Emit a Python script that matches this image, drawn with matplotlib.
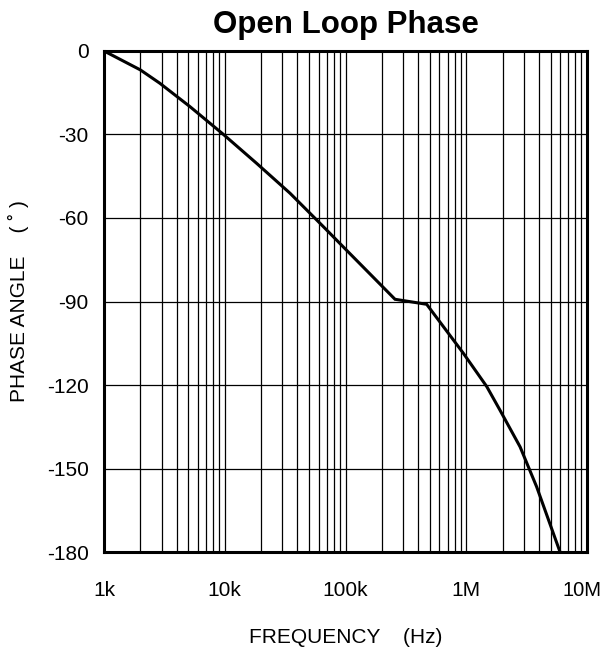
import numpy as np
import matplotlib
matplotlib.use("Agg")
import matplotlib.pyplot as plt
import matplotlib.transforms as mtransforms
from matplotlib.ticker import FixedLocator, NullFormatter

plt.rcParams["font.family"] = ["Liberation Sans", "DejaVu Sans"]
plt.rcParams["axes.unicode_minus"] = False

# ===============================
# DATA
# ===============================
freq_hz = [1e3, 2e3, 2.9e3, 5.15e3, 9.7e3, 18.4e3, 34.7e3, 65.5e3, 100e3,
           257e3, 470e3, 946e3, 1.48e6, 1.9e6, 2.79e6, 3.83e6, 5.98e6]
phase_deg = [0, -6.8, -11.6, -20, -29.9, -40.4, -51.1, -63.1, -71.2,
             -89.2, -91.0, -108.6, -120.6, -129, -142.2, -156.6, -180]

x_ticks = [1e3, 1e4, 1e5, 1e6, 1e7]
x_labels = ["1k", "10k", "100k", "1M", "10M"]
y_ticks = [0, -30, -60, -90, -120, -150, -180]

# ===============================
# PLOT
# ===============================
fig = plt.figure(figsize=(6.03, 6.51), dpi=100)
ax = fig.add_axes([0.1725, 0.152, 0.801, 0.7697])

ax.plot(freq_hz, phase_deg, color="black", lw=2.2, solid_joinstyle="miter", zorder=3)

ax.set_xscale("log")
ax.set_xlim(1e3, 1e7)
ax.set_ylim(-180, 0)

ax.set_xticks(x_ticks)
ax.set_xticklabels(x_labels)
minor = [m * 10.0 ** e for e in range(3, 7) for m in range(2, 10)]
ax.xaxis.set_minor_locator(FixedLocator(minor))
ax.xaxis.set_minor_formatter(NullFormatter())
ax.set_yticks(y_ticks)

ax.grid(True, which="major", color="black", lw=0.9)
ax.grid(True, which="minor", axis="x", color="black", lw=0.9)
ax.tick_params(axis="both", which="both", length=0, labelsize=15)
ax.tick_params(axis="x", pad=21)
ax.tick_params(axis="y", pad=11)

# last x label sits flush with the right edge in the reference
last = ax.get_xticklabels()[-1]
last.set_fontsize(14.5)
last.set_transform(last.get_transform() +
                   mtransforms.ScaledTranslation(-5 / 100, 0, fig.dpi_scale_trans))

for s in ax.spines.values():
    s.set_linewidth(2.2)
    s.set_zorder(4)

ax.set_title("Open Loop Phase", fontsize=22.5, fontweight="bold", pad=13)
ax.set_xlabel("FREQUENCY    (Hz)", fontsize=15, labelpad=20)
ax.set_ylabel("PHASE ANGLE    ( ˚ )", fontsize=15, labelpad=13)

plt.savefig("out.png", dpi=100)
